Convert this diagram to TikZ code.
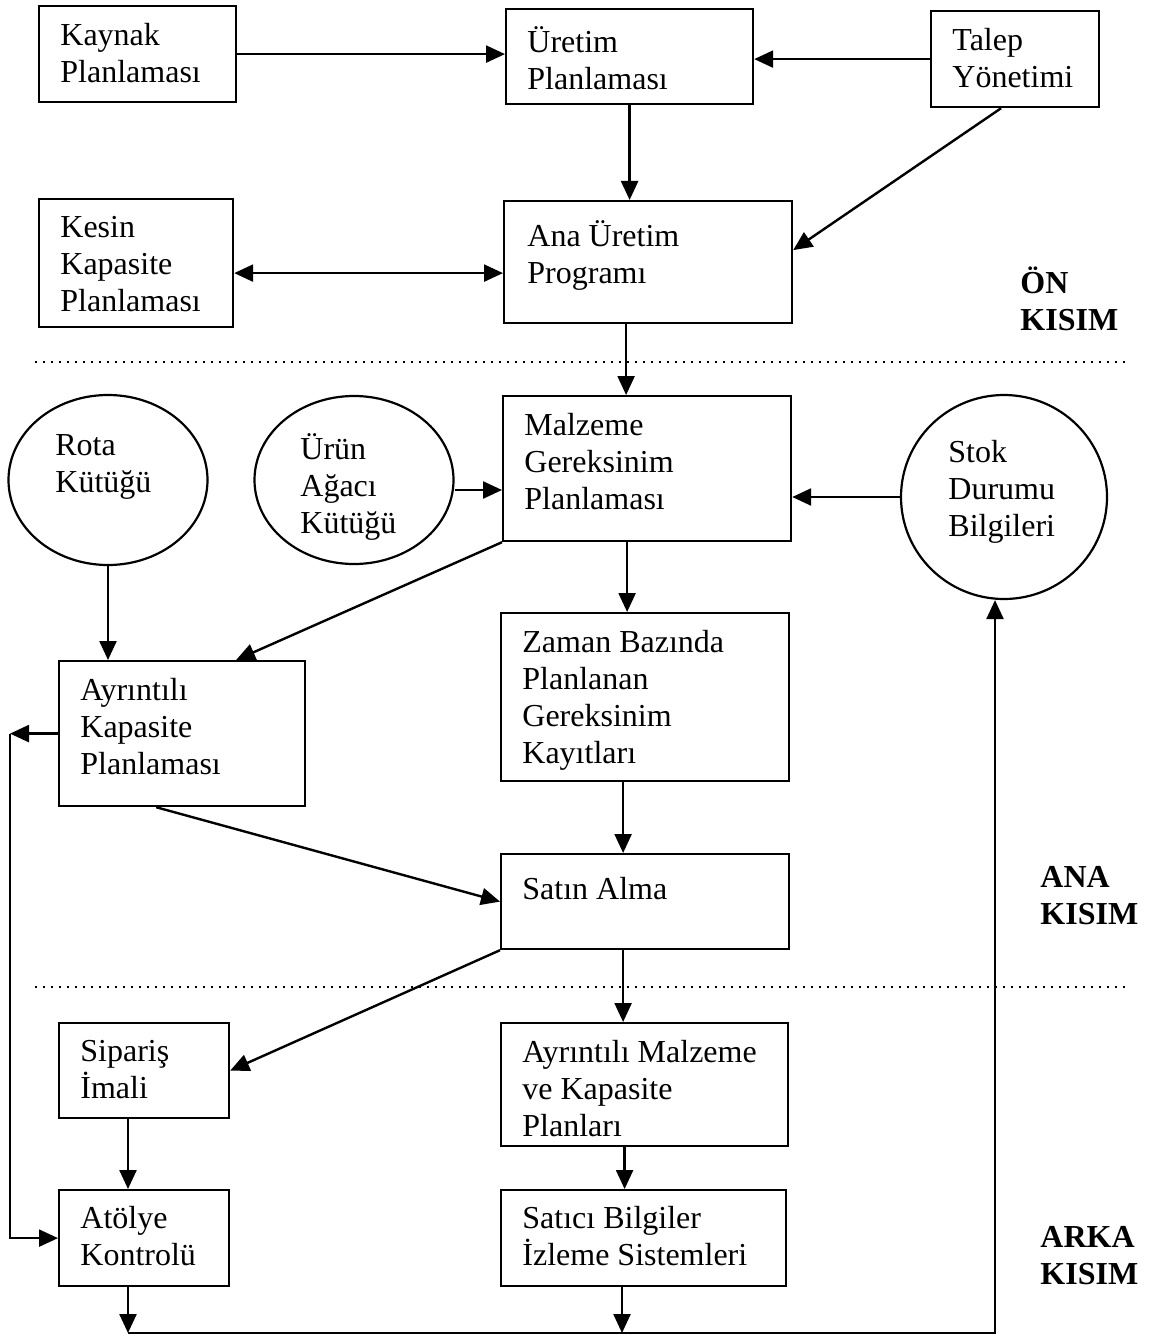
\documentclass[tikz,border=0pt]{standalone}
\usepackage{fontspec}
\setmainfont{Liberation Serif}
\usetikzlibrary{arrows.meta,shapes.geometric,positioning}
\tikzstyle{ok} = [line width=1.2pt,->,>={Triangle[length=9.5pt,width=8.5pt]}]
\tikzstyle{kutu} = [rectangle, draw, line width=1.1pt, anchor=north west, inner sep=0pt]
\tikzstyle{daire} = [ellipse, draw, line width=1.1pt, inner sep=0pt]
\tikzstyle{yazi} = [anchor=north west, inner sep=0pt, align=left,
    font=\fontsize{16}{18.5}\selectfont, execute at begin node={\rule{0pt}{14pt}}]
\tikzstyle{baslik} = [yazi, font=\fontsize{16}{18.5}\selectfont\bfseries]
\tikzstyle{ayrac} = [line width=1.2pt, dash pattern=on 1pt off 3pt]

\begin{document}
\begin{tikzpicture}[x=0.5pt, y=-0.5pt]
\useasboundingbox (0,0) rectangle (1155,1337);
% on kisim
\node[kutu, minimum width=98.5pt, minimum height=48pt] (kaynak) at (38,5) {};
\node[yazi, below right=9pt and 11pt of kaynak.north west] (kaynakT) {Kaynak\\Planlaması};
\node[kutu, minimum width=123.5pt, minimum height=47.5pt] (uretim) at (505,8) {};
\node[yazi, below right=9pt and 11pt of uretim.north west] (uretimT) {Üretim\\Planlaması};
\node[kutu, minimum width=84pt, minimum height=48pt] (talep) at (930,10) {};
\node[yazi, below right=9pt and 11pt of talep.north west] (talepT) {Talep\\Yönetimi};
\node[kutu, minimum width=97pt, minimum height=64pt] (kesin) at (38,198) {};
\node[yazi, below right=9pt and 11pt of kesin.north west] (kesinT) {Kesin\\Kapasite\\Planlaması};
\node[kutu, minimum width=144pt, minimum height=61pt] (ana) at (503,200) {};
\node[yazi, below right=10pt and 12pt of ana.north west] (anaT) {Ana Üretim\\Programı};
\node[baslik] (onT) at (1020,266) {ÖN\\KISIM};
\draw[ayrac] (35,362) -- (1130,362);

% ana kisim
\node[daire, minimum width=99.5pt, minimum height=85pt] (rota) at (108,480) {};
\node[yazi] (rotaT) at (55,434) {Rota\\Kütüğü};
\node[daire, minimum width=99.5pt, minimum height=84pt] (urun) at (354,480) {};
\node[yazi] (urunT) at (300,433) {Ürün\\Ağacı\\Kütüğü};
\node[kutu, minimum width=144pt, minimum height=72.5pt] (mgp) at (502,395) {};
\node[yazi, below right=9pt and 11pt of mgp.north west] (mgpT) {Malzeme\\Gereksinim\\Planlaması};
\node[daire, minimum width=103pt, minimum height=102pt] (stok) at (1004,497) {};
\node[yazi] (stokT) at (948,440) {Stok\\Durumu\\Bilgileri};
\node[kutu, minimum width=123pt, minimum height=72.5pt] (ayk) at (58,660) {};
\node[yazi, below right=9pt and 11pt of ayk.north west] (aykT) {Ayrıntılı\\Kapasite\\Planlaması};
\node[kutu, minimum width=144pt, minimum height=84pt] (zaman) at (500,612) {};
\node[yazi, below right=9pt and 11pt of zaman.north west] (zamanT) {Zaman Bazında\\Planlanan\\Gereksinim\\Kayıtları};
\node[kutu, minimum width=144pt, minimum height=47.5pt] (satin) at (500,853) {};
\node[yazi, below right=9pt and 11pt of satin.north west] (satinT) {Satın Alma};
\node[baslik] (anaK) at (1040,866) {ANA\\KISIM};
\draw[ayrac] (35,987) -- (1130,987);

% arka kisim
\node[kutu, minimum width=85pt, minimum height=47.5pt] (siparis) at (58,1022) {};
\node[yazi, below right=9pt and 11pt of siparis.north west] (siparisT) {Sipariş\\İmali};
\node[kutu, minimum width=143.5pt, minimum height=61.5pt] (aym) at (500,1022) {};
\node[yazi, below right=9pt and 11pt of aym.north west] (aymT) {Ayrıntılı Malzeme\\ve Kapasite\\Planları};
\node[kutu, minimum width=85pt, minimum height=48pt] (atolye) at (58,1189) {};
\node[yazi, below right=8.5pt and 11pt of atolye.north west] (atolyeT) {Atölye\\Kontrolü};
\node[kutu, minimum width=142.5pt, minimum height=48pt] (satici) at (500,1189) {};
\node[yazi, below right=8.5pt and 11pt of satici.north west] (saticiT) {Satıcı Bilgiler\\İzleme Sistemleri};
\node[baslik] (arkaK) at (1040,1226) {ARKA\\KISIM};

\coordinate (sol) at ([xshift=-24pt]ayk.west);
\coordinate (alt1) at (128,1333);
\coordinate (alt2) at (622,1333);
\coordinate (alt3) at (995,1333);

% oklar
\draw[ok] (kaynak.east) -- (kaynak.east -| uretim.west);
\draw[ok] (talep.west) -- (talep.west -| uretim.east);
\draw[ok] (uretim.south) -- (uretim.south |- ana.north);
\draw[ok] ([xshift=-7pt]talep.south) -- ([yshift=6pt]ana.east);
\draw[ok, <->] ([yshift=-5pt]kesin.east) -- ([yshift=-5pt]kesin.east -| ana.west);
\draw[ok] ([xshift=-11pt]ana.south) -- ([xshift=-11pt]ana.south |- mgp.north);
\draw[ok] ([yshift=-5pt]urun.east) -- ([yshift=-5pt]urun.east -| mgp.west);
\draw[ok] (stok.west) -- (stok.west -| mgp.east);
\draw[ok] ([xshift=-10pt]mgp.south) -- ([xshift=-10pt]mgp.south |- zaman.north);
\draw[ok] (mgp.south west) -- ([xshift=27pt]ayk.north);
\draw[ok] (rota.south) -- (rota.south |- ayk.north);
\draw[ok] ([xshift=-11pt]zaman.south) -- ([xshift=-11pt]zaman.south |- satin.north);
\draw[ok] ([xshift=-13pt]ayk.south) -- (satin.west);
\draw[ok] (satin.south west) -- (siparis.east);
\draw[ok] ([xshift=-11pt]satin.south) -- ([xshift=-11pt]satin.south |- aym.north);
\draw[ok] (alt1 |- siparis.south) -- (alt1 |- atolye.north);
\draw[ok] ([xshift=-10pt]aym.south) -- ([xshift=-10pt]aym.south |- satici.north);
\draw[ok] (ayk.west) -- (sol);
\draw[ok] (sol) |- (atolye.west);
\draw[ok] (alt1 |- atolye.south) -- (alt1);
\draw[ok] (alt2 |- satici.south) -- (alt2);
\draw[ok] (alt1) -- (alt3) -- (stok.south -| alt3);
\end{tikzpicture}
\end{document}
